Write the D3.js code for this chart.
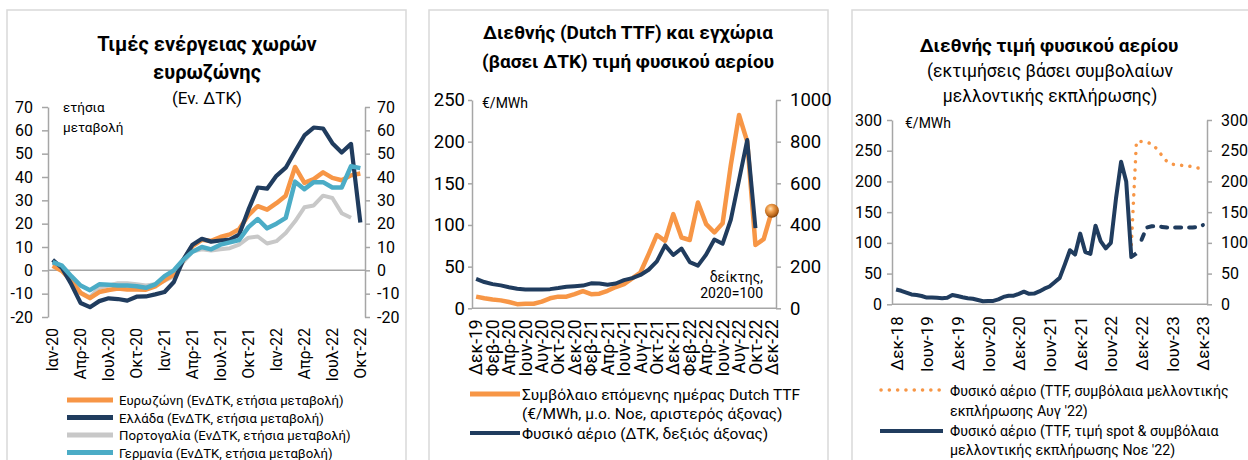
<!DOCTYPE html>
<html><head><meta charset="utf-8">
<script src="https://cdn.jsdelivr.net/npm/d3@7"></script>
<style>
body{margin:0;background:#fff;}
svg{display:block;}
</style></head><body>
<svg id="c" width="1248" height="460"></svg>
<script>
// ---------- categories ----------
const monthNames = ["Ιαν","Φεβ","Μαρ","Απρ","Μαϊ","Ιουν","Ιουλ","Αυγ","Σεπ","Οκτ","Νοε","Δεκ"];
function monthSeq(startMonth, startYear, count){
  const out=[];
  for(let k=0;k<count;k++){
    const m=(startMonth+k)%12, y=startYear+Math.floor((startMonth+k)/12);
    out.push(monthNames[m]+"-"+String(y).padStart(2,"0"));
  }
  return out;
}
// Panel 1: Jan-20 .. Oct-22
const p1Months = monthSeq(0,20,34);
const p1TickLabels = ["Ιαν-20","Απρ-20","Ιουλ-20","Οκτ-20","Ιαν-21","Απρ-21","Ιουλ-21","Οκτ-21","Ιαν-22","Απρ-22","Ιουλ-22","Οκτ-22"];
const p1YTicks = [-20,-10,0,10,20,30,40,50,60,70];
const euroArea = [1.9,-0.3,-4.5,-9.7,-11.9,-9.3,-8.4,-7.8,-8.2,-8.2,-8.3,-6.9,-4.2,-1.7,4.3,10.4,13.1,12.6,14.3,15.4,17.6,23.7,27.5,26.0,28.8,32.0,44.3,37.5,39.1,42.0,39.6,38.6,40.7,41.5];
const greece   = [4.5,1.0,-6.0,-14.0,-15.8,-13.2,-12.0,-12.3,-13.0,-11.3,-11.2,-10.3,-9.3,-5.0,4.5,11.0,13.5,12.3,12.8,13.2,15.3,26.0,35.5,35.0,40.5,44.0,51.0,57.8,61.2,60.8,54.5,50.5,54.2,20.5];
const portugal = [3.0,1.0,-3.5,-9.5,-11.5,-7.5,-6.5,-5.5,-5.5,-6.0,-6.5,-6.0,-4.5,-2.5,3.5,8.0,9.0,8.5,9.0,9.5,11.0,14.0,14.5,11.5,12.5,16.0,21.0,27.0,27.8,32.0,31.0,24.5,22.5];
const germany  = [3.5,2.0,-2.5,-6.5,-8.5,-6.0,-6.2,-6.5,-6.5,-6.8,-7.5,-6.0,-2.5,0.0,4.5,8.0,10.0,9.0,11.0,12.0,13.0,18.5,22.0,18.0,20.0,22.5,38.0,34.8,37.8,37.8,35.5,35.5,44.6,43.8];
const p1Names = ["Ευρωζώνη (ΕνΔΤΚ, ετήσια μεταβολή)","Ελλάδα (ΕνΔΤΚ, ετήσια μεταβολή)","Πορτογαλία (ΕνΔΤΚ, ετήσια μεταβολή)","Γερμανία (ΕνΔΤΚ, ετήσια μεταβολή)"];

// Panel 2: Dec-19 .. Dec-22
const p2Months = monthSeq(11,19,37);
const p2TickLabels = ["Δεκ-19","Φεβ-20","Απρ-20","Ιουν-20","Αυγ-20","Οκτ-20","Δεκ-20","Φεβ-21","Απρ-21","Ιουν-21","Αυγ-21","Οκτ-21","Δεκ-21","Φεβ-22","Απρ-22","Ιουν-22","Αυγ-22","Οκτ-22","Δεκ-22"];
const p2LeftTicks = [0,50,100,150,200,250];
const p2RightTicks = [0,200,400,600,800,1000];
const ttfDayAhead = [14.0,12.0,10.5,9.5,7.5,5.0,5.5,5.5,8.0,12.0,14.0,14.0,17.0,20.5,17.0,17.5,21.0,25.5,29.0,36.0,43.0,65.0,88.0,81.0,113.0,85.0,82.0,127.0,101.0,91.0,102.0,172.0,232.0,200.0,76.0,83.0,117.0];
const grGasCPI = [141,126,116,110,101,94,90,90,90,92,97,103,106,109,120,119,113,119,135,145,160,185,225,302,256,287,222,205,258,330,310,425,615,808,385];
const p2Names = [["Συμβόλαιο επόμενης ημέρας Dutch TTF","(€/MWh, μ.ο. Νοε, αριστερός άξονας)"],["Φυσικό αέριο (ΔΤΚ, δεξιός άξονας)"]];

// Panel 3: Dec-18 .. Dec-23
const p3Months = monthSeq(11,18,61);
const p3TickLabels = ["Δεκ-18","Ιουν-19","Δεκ-19","Ιουν-20","Δεκ-20","Ιουν-21","Δεκ-21","Ιουν-22","Δεκ-22","Ιουν-23","Δεκ-23"];
const p3YTicks = [0,50,100,150,200,250,300];
const ttfSpot = [24,22,19,16,15,13.5,11,11,10.5,10,10.5,15,13.5,11.5,10,9,7,5,5.5,5.5,8,12,14,14,17,20.5,17,17.5,21,25.5,29,36,43,65,88,81,115,85,82,128,103,91,100,172,232,200,77,83];
const futuresNov22Start = "Δεκ-22";
const futuresNov22 = [105,125,127,127,126,125,125,125,125,125,125,126,129];
const futuresAug22Start = "Οκτ-22";
const futuresAug22 = [97,265,265,264,261,253,242,232,228,227,226,225,224,222,221];
const p3Names = [["Φυσικό αέριο (TTF, συμβόλαια μελλοντικής","εκπλήρωσης Αυγ '22)"],["Φυσικό αέριο (TTF, τιμή spot & συμβόλαια","μελλοντικής εκπλήρωσης Νοε '22)"]];

// ---------- styles ----------
const FONT = "Roboto, 'Noto Sans', sans-serif";
const AX = "#a6a6a6";
const ORANGE = "#F79646", NAVY = "#203C5E", GRAY = "#C8C8C8", CYAN = "#4BACC6";

const svg = d3.select("#c").style("font-family", FONT);

// frames
[[7,406],[429,828],[852,1256]].forEach(([a,b]) =>
  svg.append("rect").attr("x",a).attr("y",10).attr("width",b-a).attr("height",480)
    .attr("fill","none").attr("stroke","#d9d9d9").attr("stroke-width",1.5));

function yAxis(scale, xPos, side, ticks, size, pad, fs){
  const ax = (side==="left" ? d3.axisLeft(scale) : d3.axisRight(scale))
    .tickValues(ticks).tickSize(size).tickSizeOuter(0).tickPadding(pad).tickFormat(d=>String(d));
  const g = svg.append("g").attr("transform",`translate(${xPos},0)`).call(ax);
  g.attr("font-family",FONT).attr("font-size",fs||16);
  g.select(".domain").attr("stroke",AX).attr("stroke-width",1.5);
  g.selectAll(".tick line").attr("stroke",AX).attr("stroke-width",1.5);
  g.selectAll(".tick text").attr("fill","#000");
  return g;
}
function xAxis(scale, yPos, labels, gap, fs){
  const ax = d3.axisBottom(scale).tickValues(labels).tickSize(0).tickPadding(0);
  const g = svg.append("g").attr("transform",`translate(0,${yPos})`).call(ax);
  g.attr("font-family",FONT).attr("font-size",fs||16);
  g.select(".domain").remove();
  g.selectAll(".tick text").attr("fill","#000")
    .attr("transform","rotate(-90)").attr("x",-gap).attr("y",0).attr("dy","0.35em")
    .attr("text-anchor","end");
  return g;
}
function text(x,y,str,opts={}){
  return svg.append("text").attr("x",x).attr("y",y).text(str)
    .attr("font-size",opts.size||14).attr("font-weight",opts.weight||"normal")
    .attr("text-anchor",opts.anchor||"start").attr("fill","#000");
}
function drawLine(xs, cats, start, values, ys, color, w, dash){
  const x0 = xs.bandwidth ? xs.bandwidth()/2 : 0;
  const line = d3.line().x((d,i)=>xs(cats[start+i])+x0).y(d=>ys(d));
  const p = svg.append("path").datum(values).attr("d",line).attr("fill","none")
    .attr("stroke",color).attr("stroke-width",w).attr("stroke-linejoin","round");
  if(dash){ p.attr("stroke-dasharray",dash).attr("stroke-linecap","round"); }
  return p;
}

// ================= Panel 1 =================
{
  const x = d3.scaleBand().domain(p1Months).range([48,365]);
  const y = d3.scaleLinear().domain([-20,70]).range([317,107]);
  yAxis(y,48,"left",p1YTicks,6,9);
  yAxis(y,365,"right",p1YTicks,5,7);
  svg.append("line").attr("x1",48).attr("x2",365).attr("y1",y(0)).attr("y2",y(0))
    .attr("stroke",AX).attr("stroke-width",1.5);
  xAxis(x,317,p1TickLabels,11);
  drawLine(x,p1Months,0,portugal,y,GRAY,4);
  drawLine(x,p1Months,0,euroArea,y,ORANGE,4.5);
  drawLine(x,p1Months,0,greece,y,NAVY,4.2);
  drawLine(x,p1Months,0,germany,y,CYAN,4.5);
  text(207,51,"Τιμές ενέργειας χωρών",{size:20,weight:"bold",anchor:"middle"});
  text(207,79,"ευρωζώνης",{size:20,weight:"bold",anchor:"middle"});
  text(207,104,"(Εν. ΔΤΚ)",{size:17,anchor:"middle"});
  text(63,112,"ετήσια",{size:13.5});
  text(63,132,"μεταβολή",{size:13.5});
  const cols=[ORANGE,NAVY,GRAY,CYAN];
  p1Names.forEach((n,i)=>{
    const yy = 400 + i*17.5;
    svg.append("line").attr("x1",67).attr("x2",113).attr("y1",yy).attr("y2",yy)
      .attr("stroke",cols[i]).attr("stroke-width",5);
    text(119,yy+5,n,{size:13.2});
  });
}

// ================= Panel 2 =================
{
  const x = d3.scaleBand().domain(p2Months).range([472,776]);
  const yL = d3.scaleLinear().domain([0,250]).range([308.3,100]);
  const yR = d3.scaleLinear().domain([0,1000]).range([308.3,100]);
  yAxis(yL,472,"left",p2LeftTicks,4,3,18.5);
  yAxis(yR,776,"right",p2RightTicks,5,9,18.5);
  svg.append("line").attr("x1",472).attr("x2",776).attr("y1",yL(0)).attr("y2",yL(0))
    .attr("stroke",AX).attr("stroke-width",1.5);
  xAxis(x,308.3,p2TickLabels,11,17.5);
  drawLine(x,p2Months,0,ttfDayAhead,yL,ORANGE,4.5);
  drawLine(x,p2Months,0,grGasCPI,yR,NAVY,4);
  // sphere marker on last orange point
  const defs = svg.append("defs");
  const rg = defs.append("radialGradient").attr("id","ball").attr("cx","40%").attr("cy","35%").attr("r","65%");
  rg.append("stop").attr("offset","0%").attr("stop-color","#ffe3b8");
  rg.append("stop").attr("offset","35%").attr("stop-color","#f0a050");
  rg.append("stop").attr("offset","80%").attr("stop-color","#b86418");
  rg.append("stop").attr("offset","100%").attr("stop-color","#7a3d08");
  const last = p2Months.length-1;
  svg.append("circle").attr("cx",x(p2Months[last])+x.bandwidth()/2).attr("cy",yL(ttfDayAhead[last]))
    .attr("r",7).attr("fill","url(#ball)");
  text(628,39,"Διεθνής (Dutch TTF) και εγχώρια",{size:19,weight:"bold",anchor:"middle"});
  text(628,68,"(βασει ΔΤΚ) τιμή φυσικού αερίου",{size:19,weight:"bold",anchor:"middle"});
  text(482,108,"€/MWh",{size:14});
  text(763,282,"δείκτης,",{size:14,anchor:"end"});
  text(763,298,"2020=100",{size:14,anchor:"end"});
  svg.append("line").attr("x1",470).attr("x2",520).attr("y1",394).attr("y2",394).attr("stroke",ORANGE).attr("stroke-width",5);
  text(522,399.5,p2Names[0][0],{size:15.5});
  text(522,419,p2Names[0][1],{size:15.5});
  svg.append("line").attr("x1",470).attr("x2",520).attr("y1",433).attr("y2",433).attr("stroke",NAVY).attr("stroke-width",4);
  text(522,438.5,p2Names[1][0],{size:15.5});
}

// ================= Panel 3 =================
{
  const x = d3.scalePoint().domain(p3Months).range([892,1207]).padding(0.8);
  const y = d3.scaleLinear().domain([0,300]).range([304.3,120]);
  yAxis(y,892,"left",p3YTicks,5,5);
  yAxis(y,1207,"right",p3YTicks,5,9);
  svg.append("line").attr("x1",892).attr("x2",1207).attr("y1",y(0)).attr("y2",y(0))
    .attr("stroke",AX).attr("stroke-width",1.5);
  xAxis(x,304.3,p3TickLabels,12,17);
  drawLine(x,p3Months,p3Months.indexOf(futuresAug22Start),futuresAug22,y,ORANGE,3.5,"0.1 8.2");
  drawLine(x,p3Months,0,ttfSpot,y,NAVY,4);
  drawLine(x,p3Months,p3Months.indexOf(futuresNov22Start),futuresNov22,y,NAVY,4,"6 8");
  text(1049,52,"Διεθνής τιμή φυσικού αερίου",{size:19,weight:"bold",anchor:"middle"});
  text(1050,77,"(εκτιμήσεις βάσει συμβολαίων",{size:17.5,anchor:"middle"});
  text(1050,102,"μελλοντικής εκπλήρωσης)",{size:17.5,anchor:"middle"});
  text(905,128,"€/MWh",{size:14});
  svg.append("line").attr("x1",881).attr("x2",943).attr("y1",390).attr("y2",390)
    .attr("stroke",ORANGE).attr("stroke-width",3.5).attr("stroke-dasharray","0.1 8.2").attr("stroke-linecap","round");
  text(950,396,p3Names[0][0],{size:14.2});
  text(950,416,p3Names[0][1],{size:14.2});
  svg.append("line").attr("x1",880).attr("x2",943).attr("y1",431).attr("y2",431).attr("stroke",NAVY).attr("stroke-width",4);
  text(950,436,p3Names[1][0],{size:14.2});
  text(950,455,p3Names[1][1],{size:14.2});
}
</script>
</body></html>
